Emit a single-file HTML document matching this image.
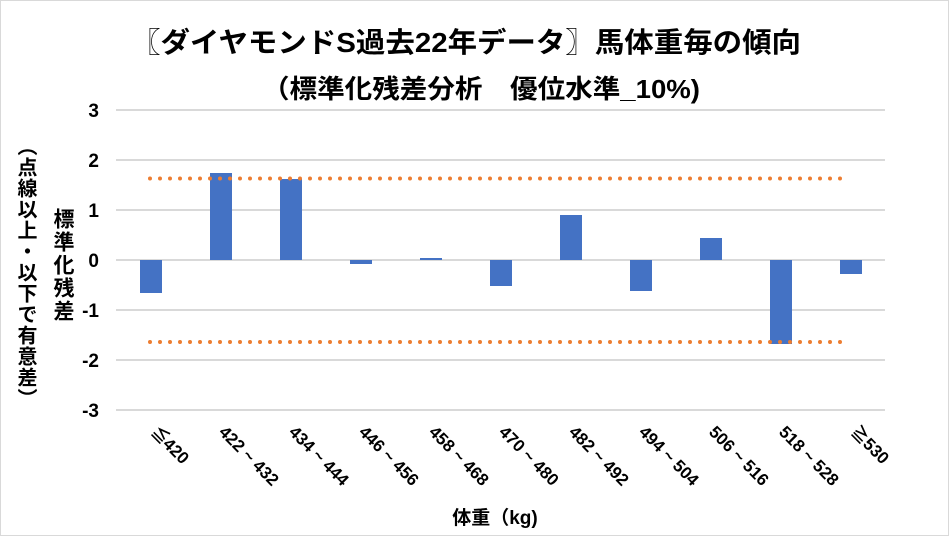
<!DOCTYPE html><html><head><meta charset="utf-8"><style>
body{margin:0;background:#fff}
.v{position:absolute;writing-mode:vertical-rl;font-family:"Liberation Sans","Noto Sans CJK JP",sans-serif;font-weight:bold;color:#000}
</style></head><body>
<div style="position:relative;width:949px;height:536px;overflow:hidden">
<svg width="949" height="536" style="position:absolute;left:0;top:0" font-family="Liberation Sans, Noto Sans CJK JP, sans-serif" font-weight="bold">
<rect x="0.5" y="0.5" width="948" height="535" fill="#fff" stroke="#d9d9d9"/>
<text x="466" y="52" text-anchor="middle" font-size="28" textLength="670" lengthAdjust="spacingAndGlyphs">〖ダイヤモンドS過去22年データ〗馬体重毎の傾向</text>
<text x="481" y="98" text-anchor="middle" font-size="26" textLength="438" lengthAdjust="spacingAndGlyphs">（標準化残差分析　優位水準_10%)</text>
<g stroke="#d9d9d9" stroke-width="2">
<line x1="116" x2="885" y1="110" y2="110"/><line x1="116" x2="885" y1="160" y2="160"/><line x1="116" x2="885" y1="210" y2="210"/><line x1="116" x2="885" y1="260" y2="260"/><line x1="116" x2="885" y1="310" y2="310"/><line x1="116" x2="885" y1="360" y2="360"/><line x1="116" x2="885" y1="410" y2="410"/>
</g>
<g font-size="19" text-anchor="end">
<text x="99" y="117">3</text><text x="99" y="167">2</text><text x="99" y="217">1</text><text x="99" y="267">0</text><text x="99" y="317">-1</text><text x="99" y="367">-2</text><text x="99" y="417">-3</text>
</g>
<g fill="#4472c4">
<rect x="140" y="260" width="22" height="33"/>
<rect x="210" y="173" width="22" height="87"/>
<rect x="280" y="179" width="22" height="81"/>
<rect x="350" y="260" width="22" height="4"/>
<rect x="420" y="258" width="22" height="2"/>
<rect x="490" y="260" width="22" height="26"/>
<rect x="560" y="215" width="22" height="45"/>
<rect x="630" y="260" width="22" height="31"/>
<rect x="700" y="238" width="22" height="22"/>
<rect x="770" y="260" width="22" height="84"/>
<rect x="840" y="260" width="22" height="14"/>
</g>
<g stroke="#ed7d31" stroke-width="4" stroke-linecap="round" stroke-dasharray="0 10">
<line x1="150" x2="845" y1="178.5" y2="178.5"/><line x1="150" x2="845" y1="342" y2="342"/>
</g>
<g font-size="17">
<text transform="translate(150,433) rotate(45)">≦420</text>
<text transform="translate(218,433) rotate(45)">422 ~ 432</text>
<text transform="translate(288,433) rotate(45)">434 ~ 444</text>
<text transform="translate(358,433) rotate(45)">446 ~ 456</text>
<text transform="translate(428,433) rotate(45)">458 ~ 468</text>
<text transform="translate(498,433) rotate(45)">470 ~ 480</text>
<text transform="translate(568,433) rotate(45)">482 ~ 492</text>
<text transform="translate(638,433) rotate(45)">494 ~ 504</text>
<text transform="translate(708,433) rotate(45)">506 ~ 516</text>
<text transform="translate(778,433) rotate(45)">518 ~ 528</text>
<text transform="translate(850,433) rotate(45)">≧530</text>
</g>
<text x="495" y="524" text-anchor="middle" font-size="19">体重（kg)</text>
</svg>
<div class="v" style="left:13px;top:136px;font-size:20px;line-height:24px;letter-spacing:1px">（点線以上・以下で有意差）</div>
<div class="v" style="left:50px;top:208px;font-size:21px;line-height:24px;letter-spacing:2px">標準化残差</div>
</div>
</body></html>
